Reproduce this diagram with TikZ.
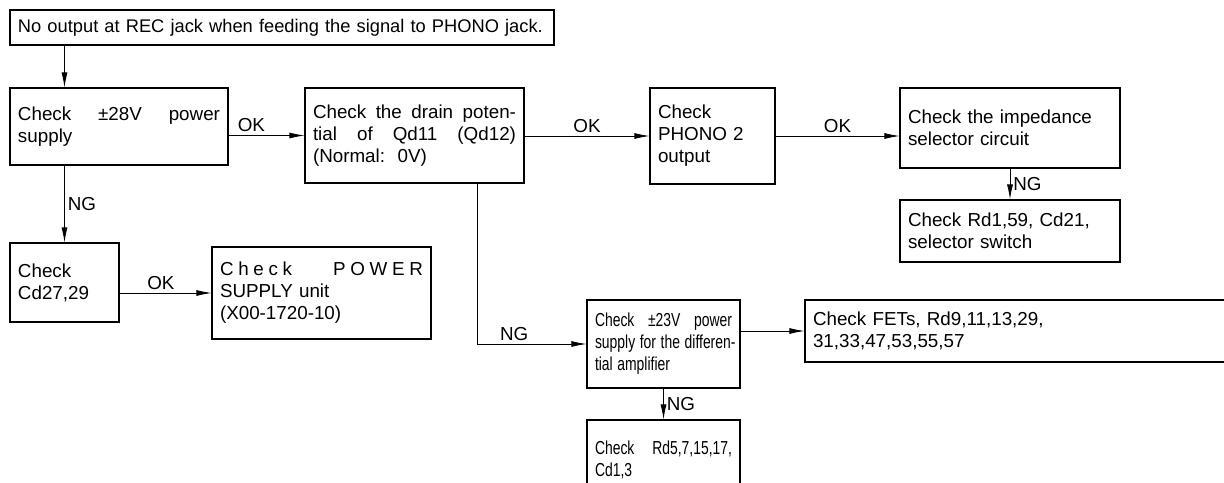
\documentclass[tikz,border=0pt]{standalone}
\usepackage{fontspec}
\usepackage{graphicx}
\setmainfont{Liberation Sans}
\newcommand{\nw}[1]{\scalebox{0.74}[1]{#1}}
\usetikzlibrary{arrows.meta}

\begin{document}
\begin{tikzpicture}[x=0.5pt,y=-0.5pt,
    >={Latex[length=7.5pt,width=3pt]},
    box/.style={draw,line width=0.6pt,inner xsep=4pt,inner ysep=0pt,align=left,font=\fontsize{9.4}{11}\selectfont},
    lbl/.style={font=\fontsize{9.4}{11}\selectfont,inner sep=1.5pt}]
    \useasboundingbox (0,0) rectangle (1224,482);
    \clip (0,0) rectangle (1224,482);
    \node[box,text width=264pt,minimum height=17.5pt,font=\fontsize{9.15}{11}\selectfont] (fault) at (282,27.5) {\mbox{No output at REC jack when feeding the signal to PHONO jack.}};
    \node[box,text width=101pt,minimum height=38.5pt] (pwr) at (119,126.5) {Check\hfill ±28V\hfill power\\supply};
    \node[box,text width=101.5pt,minimum height=47.5pt] (drain) at (414.5,135.5) {Check\hfill the\hfill drain\hfill poten-\\tial\hfill of\hfill Qd11\hfill (Qd12)\\(Normal:\ \ 0V)};
    \node[box,text width=54.5pt,minimum height=48pt] (phono) at (712.5,136) {Check\\PHONO 2\\output};
    \node[box,text width=102pt,minimum height=40pt] (imp) at (1010,128) {Check the impedance\\selector circuit};
    \node[box,text width=102pt,minimum height=31pt] (sel) at (1010,231) {Check Rd1,59, Cd21,\\selector switch};
    \node[box,text width=46.5pt,minimum height=39.5pt] (cd) at (64.5,282.5) {Check\\Cd27,29};
    \node[box,text width=101.5pt,minimum height=46pt] (psu) at (321.5,293) {{\addfontfeature{LetterSpace=25}Check\hfill POWER}\\SUPPLY unit\\(X00-1720-10)};
    \node[box,text width=68.5pt,minimum height=44pt] (diff) at (663.5,344) {\nw{Check}\hfill\nw{±23V}\hfill\nw{power}\\\nw{supply for the differen-}\\\nw{tial amplifier}};
    \node[box,text width=209.5pt,minimum height=31pt] (fets) at (1022.5,331) {Check FETs, Rd9,11,13,29,\\31,33,47,53,55,57};
    \node[box,text width=68.5pt,minimum height=40pt] (rd) at (663.5,460) {\nw{Check}\hfill\nw{Rd5,7,15,17,}\\\nw{Cd1,3}};
    \coordinate (ngturn) at (477,344);

    \draw[->] (fault.south -| cd.north) -- (pwr.north -| cd.north);
    \draw[->] (pwr.east |- drain.west) -- node[lbl,above,pos=0.3] {OK} (drain.west);
    \draw[->] (drain.east |- phono.west) -- node[lbl,above,pos=0.5] {OK} (phono.west);
    \draw[->] (phono.east) -- node[lbl,above,pos=0.5] {OK} (phono.east -| imp.west);
    \draw[->] (imp.south) -- node[lbl,right] {NG} (sel.north);
    \draw[->] (pwr.south -| cd.north) -- node[lbl,right] {NG} (cd.north);
    \draw[->] (cd.east |- psu.west) -- node[lbl,above,pos=0.45] {OK} (psu.west);
    \draw[->] (drain.south -| ngturn) |- node[lbl,above,pos=0.67] {NG} (diff.west);
    \draw[->] (diff.east |- fets.west) -- (fets.west);
    \draw[->] (diff.south) -- node[lbl,right] {NG} (rd.north);
\end{tikzpicture}
\end{document}
